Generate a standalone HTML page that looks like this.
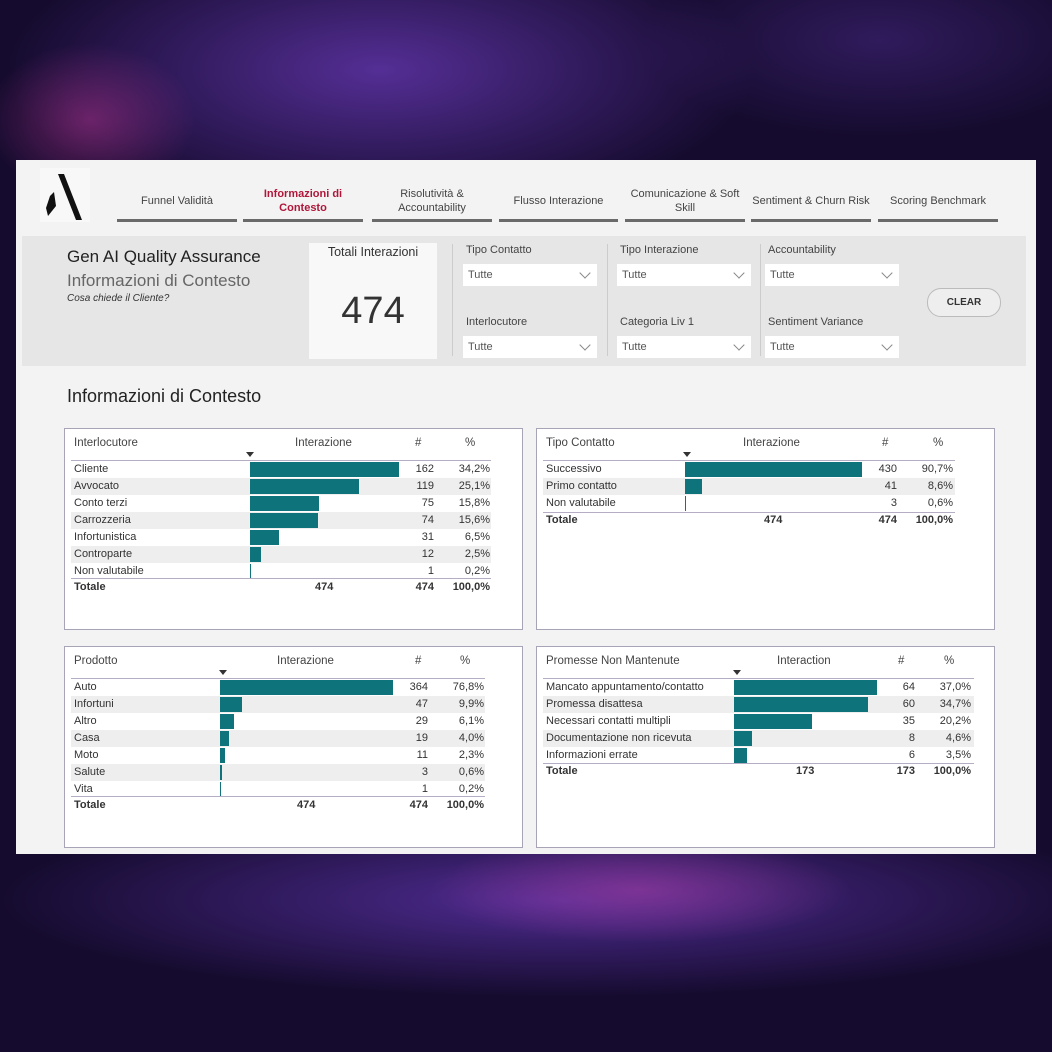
<!DOCTYPE html>
<html><head><meta charset="utf-8"><style>
*{margin:0;padding:0;box-sizing:border-box}
body{width:1052px;height:1052px;overflow:hidden;position:relative;font-family:"Liberation Sans",sans-serif;color:#333;
background:
radial-gradient(ellipse 150px 110px at 90px 120px,rgba(170,50,140,.55),transparent 70%),
radial-gradient(ellipse 480px 190px at 380px 70px,rgba(100,55,175,.8),transparent 78%),
radial-gradient(ellipse 320px 130px at 880px 40px,rgba(70,40,130,.55),transparent 75%),
radial-gradient(ellipse 280px 70px at 640px 890px,rgba(160,60,160,.6),transparent 75%),
radial-gradient(ellipse 750px 130px at 560px 900px,rgba(90,50,165,.85),transparent 75%),
#150b2e}
.a{position:absolute;white-space:nowrap}
.panel{position:absolute;left:16px;top:160px;width:1020px;height:694px;background:#f3f3f3}
.tab{position:absolute;top:186px;height:36px;border-bottom:3px solid #6a6a6a;font-size:11px;color:#444;text-align:center;display:flex;align-items:center;justify-content:center;line-height:14px;padding-bottom:4px}
.lbl{font-size:11px;color:#444}
.dd{position:absolute;width:134px;height:22px;background:#fff;font-size:11px;color:#555;padding:5px 0 0 5px}
.dd:after{content:"";position:absolute;right:8px;top:5px;width:7px;height:7px;border-right:1px solid #888;border-bottom:1px solid #888;transform:rotate(45deg)}
.sep{position:absolute;top:244px;width:1px;height:112px;background:#ccc}
.tbl{position:absolute;width:459px;height:202px;background:#fff;border:1px solid #a9a3b8;font-size:11px;color:#333}
.h{position:absolute;top:8px;font-size:11.5px;color:#444}
.hl{position:absolute;top:31px;height:1px;background:#b4adc4}
.r{position:absolute;height:17px;left:6px}
.r.g{background:#eeeeee}
.t{position:absolute;top:2px}
.b{position:absolute;top:1px;height:15px;background:#0e737a}
.n{position:absolute;top:2px;text-align:right}
.tot{font-weight:bold;font-size:11px}
.tri{position:absolute;top:23px;width:0;height:0;border-left:4px solid transparent;border-right:4px solid transparent;border-top:5px solid #333}
</style></head><body>
<div class="panel"></div>
<div class="a" style="left:40px;top:168px;width:50px;height:54px;background:#f8f8f8"></div>
<svg class="a" style="left:40px;top:168px" width="50" height="54"><polygon points="18,6 24,6 42,52 36,52" fill="#111"/><polygon points="10,28 14,24 16,38 8,48 6,40" fill="#111"/></svg>

<div class="tab" style="left:117px;width:120px">Funnel Validità</div>
<div class="tab" style="left:243px;width:120px;color:#b0163a;font-weight:bold">Informazioni di<br>Contesto</div>
<div class="tab" style="left:372px;width:120px">Risolutività &amp;<br>Accountability</div>
<div class="tab" style="left:499px;width:119px">Flusso Interazione</div>
<div class="tab" style="left:625px;width:120px">Comunicazione &amp; Soft<br>Skill</div>
<div class="tab" style="left:751px;width:120px">Sentiment &amp; Churn Risk</div>
<div class="tab" style="left:878px;width:120px">Scoring Benchmark</div>

<div class="a" style="left:22px;top:236px;width:1004px;height:130px;background:#e6e6e6"></div>
<div class="a" style="left:67px;top:247px;font-size:17px;color:#222">Gen AI Quality Assurance</div>
<div class="a" style="left:67px;top:271px;font-size:17px;color:#666">Informazioni di Contesto</div>
<div class="a" style="left:67px;top:293px;font-size:10px;font-style:italic;color:#333">Cosa chiede il Cliente?</div>
<div class="a" style="left:309px;top:243px;width:128px;height:116px;background:#f8f8f8"></div>
<div class="a" style="left:309px;top:245px;width:128px;text-align:center;font-size:12.5px;color:#333">Totali Interazioni</div>
<div class="a" style="left:309px;top:290px;width:128px;text-align:center;font-size:38px;color:#333">474</div>
<div class="sep" style="left:452px"></div><div class="sep" style="left:607px"></div><div class="sep" style="left:760px"></div>
<div class="a lbl" style="left:466px;top:244px">Tipo Contatto</div>
<div class="a lbl" style="left:466px;top:316px">Interlocutore</div>
<div class="a lbl" style="left:620px;top:244px">Tipo Interazione</div>
<div class="a lbl" style="left:620px;top:316px">Categoria Liv 1</div>
<div class="a lbl" style="left:768px;top:244px">Accountability</div>
<div class="a lbl" style="left:768px;top:316px">Sentiment Variance</div>
<div class="dd" style="left:463px;top:264px">Tutte</div><div class="dd" style="left:463px;top:336px">Tutte</div>
<div class="dd" style="left:617px;top:264px">Tutte</div><div class="dd" style="left:617px;top:336px">Tutte</div>
<div class="dd" style="left:765px;top:264px">Tutte</div><div class="dd" style="left:765px;top:336px">Tutte</div>
<div class="a" style="left:927px;top:288px;width:74px;height:29px;border:1px solid #bbb;border-radius:14px;background:#eee;font-size:10px;font-weight:bold;text-align:center;padding-top:8px;color:#333">CLEAR</div>

<div class="a" style="left:67px;top:386px;font-size:18px;color:#222">Informazioni di Contesto</div>

<!-- Table 1 -->
<div class="tbl" style="left:64px;top:428px">
<div class="h" style="left:9px">Interlocutore</div><div class="h" style="left:230px">Interazione</div><div class="h" style="left:350px">#</div><div class="h" style="left:400px">%</div>
<div class="tri" style="left:181px"></div>
<div class="hl" style="left:6px;width:420px"></div>
<div class="r" style="top:32px;width:420px"><span class="t" style="left:3px">Cliente</span><div class="b" style="left:179px;width:149px"></div><span class="n" style="right:57px">162</span><span class="n" style="right:1px">34,2%</span></div>
<div class="r g" style="top:49px;width:420px"><span class="t" style="left:3px">Avvocato</span><div class="b" style="left:179px;width:109px"></div><span class="n" style="right:57px">119</span><span class="n" style="right:1px">25,1%</span></div>
<div class="r" style="top:66px;width:420px"><span class="t" style="left:3px">Conto terzi</span><div class="b" style="left:179px;width:69px"></div><span class="n" style="right:57px">75</span><span class="n" style="right:1px">15,8%</span></div>
<div class="r g" style="top:83px;width:420px"><span class="t" style="left:3px">Carrozzeria</span><div class="b" style="left:179px;width:68px"></div><span class="n" style="right:57px">74</span><span class="n" style="right:1px">15,6%</span></div>
<div class="r" style="top:100px;width:420px"><span class="t" style="left:3px">Infortunistica</span><div class="b" style="left:179px;width:29px"></div><span class="n" style="right:57px">31</span><span class="n" style="right:1px">6,5%</span></div>
<div class="r g" style="top:117px;width:420px"><span class="t" style="left:3px">Controparte</span><div class="b" style="left:179px;width:11px"></div><span class="n" style="right:57px">12</span><span class="n" style="right:1px">2,5%</span></div>
<div class="r" style="top:134px;width:420px"><span class="t" style="left:3px">Non valutabile</span><div class="b" style="left:179px;width:1px"></div><span class="n" style="right:57px">1</span><span class="n" style="right:1px">0,2%</span></div>
<div class="hl" style="left:6px;width:420px;top:149px"></div>
<div class="r tot" style="top:150px;width:420px"><span class="t" style="left:3px">Totale</span><span class="t" style="left:244px">474</span><span class="n" style="right:57px">474</span><span class="n" style="right:1px">100,0%</span></div>
</div>

<!-- Table 2 -->
<div class="tbl" style="left:536px;top:428px">
<div class="h" style="left:9px">Tipo Contatto</div><div class="h" style="left:206px">Interazione</div><div class="h" style="left:345px">#</div><div class="h" style="left:396px">%</div>
<div class="tri" style="left:146px"></div>
<div class="hl" style="left:6px;width:412px"></div>
<div class="r" style="top:32px;width:412px"><span class="t" style="left:3px">Successivo</span><div class="b" style="left:142px;width:177px"></div><span class="n" style="right:58px">430</span><span class="n" style="right:2px">90,7%</span></div>
<div class="r g" style="top:49px;width:412px"><span class="t" style="left:3px">Primo contatto</span><div class="b" style="left:142px;width:17px"></div><span class="n" style="right:58px">41</span><span class="n" style="right:2px">8,6%</span></div>
<div class="r" style="top:66px;width:412px"><span class="t" style="left:3px">Non valutabile</span><div class="b" style="left:142px;width:1px"></div><span class="n" style="right:58px">3</span><span class="n" style="right:2px">0,6%</span></div>
<div class="hl" style="left:6px;width:412px;top:83px"></div>
<div class="r tot" style="top:83px;width:412px"><span class="t" style="left:3px">Totale</span><span class="t" style="left:221px">474</span><span class="n" style="right:58px">474</span><span class="n" style="right:2px">100,0%</span></div>
</div>

<!-- Table 3 -->
<div class="tbl" style="left:64px;top:646px">
<div class="h" style="left:9px">Prodotto</div><div class="h" style="left:212px">Interazione</div><div class="h" style="left:350px">#</div><div class="h" style="left:395px">%</div>
<div class="tri" style="left:154px"></div>
<div class="hl" style="left:6px;width:414px"></div>
<div class="r" style="top:32px;width:414px"><span class="t" style="left:3px">Auto</span><div class="b" style="left:149px;width:173px"></div><span class="n" style="right:57px">364</span><span class="n" style="right:1px">76,8%</span></div>
<div class="r g" style="top:49px;width:414px"><span class="t" style="left:3px">Infortuni</span><div class="b" style="left:149px;width:22px"></div><span class="n" style="right:57px">47</span><span class="n" style="right:1px">9,9%</span></div>
<div class="r" style="top:66px;width:414px"><span class="t" style="left:3px">Altro</span><div class="b" style="left:149px;width:14px"></div><span class="n" style="right:57px">29</span><span class="n" style="right:1px">6,1%</span></div>
<div class="r g" style="top:83px;width:414px"><span class="t" style="left:3px">Casa</span><div class="b" style="left:149px;width:9px"></div><span class="n" style="right:57px">19</span><span class="n" style="right:1px">4,0%</span></div>
<div class="r" style="top:100px;width:414px"><span class="t" style="left:3px">Moto</span><div class="b" style="left:149px;width:5px"></div><span class="n" style="right:57px">11</span><span class="n" style="right:1px">2,3%</span></div>
<div class="r g" style="top:117px;width:414px"><span class="t" style="left:3px">Salute</span><div class="b" style="left:149px;width:2px"></div><span class="n" style="right:57px">3</span><span class="n" style="right:1px">0,6%</span></div>
<div class="r" style="top:134px;width:414px"><span class="t" style="left:3px">Vita</span><div class="b" style="left:149px;width:1px"></div><span class="n" style="right:57px">1</span><span class="n" style="right:1px">0,2%</span></div>
<div class="hl" style="left:6px;width:414px;top:149px"></div>
<div class="r tot" style="top:150px;width:414px"><span class="t" style="left:3px">Totale</span><span class="t" style="left:226px">474</span><span class="n" style="right:57px">474</span><span class="n" style="right:1px">100,0%</span></div>
</div>

<!-- Table 4 -->
<div class="tbl" style="left:536px;top:646px">
<div class="h" style="left:9px">Promesse Non Mantenute</div><div class="h" style="left:240px">Interaction</div><div class="h" style="left:361px">#</div><div class="h" style="left:407px">%</div>
<div class="tri" style="left:196px"></div>
<div class="hl" style="left:6px;width:431px"></div>
<div class="r" style="top:32px;width:431px"><span class="t" style="left:3px">Mancato appuntamento/contatto</span><div class="b" style="left:191px;width:143px"></div><span class="n" style="right:59px">64</span><span class="n" style="right:3px">37,0%</span></div>
<div class="r g" style="top:49px;width:431px"><span class="t" style="left:3px">Promessa disattesa</span><div class="b" style="left:191px;width:134px"></div><span class="n" style="right:59px">60</span><span class="n" style="right:3px">34,7%</span></div>
<div class="r" style="top:66px;width:431px"><span class="t" style="left:3px">Necessari contatti multipli</span><div class="b" style="left:191px;width:78px"></div><span class="n" style="right:59px">35</span><span class="n" style="right:3px">20,2%</span></div>
<div class="r g" style="top:83px;width:431px"><span class="t" style="left:3px">Documentazione non ricevuta</span><div class="b" style="left:191px;width:18px"></div><span class="n" style="right:59px">8</span><span class="n" style="right:3px">4,6%</span></div>
<div class="r" style="top:100px;width:431px"><span class="t" style="left:3px">Informazioni errate</span><div class="b" style="left:191px;width:13px"></div><span class="n" style="right:59px">6</span><span class="n" style="right:3px">3,5%</span></div>
<div class="hl" style="left:6px;width:431px;top:116px"></div>
<div class="r tot" style="top:116px;width:431px"><span class="t" style="left:3px">Totale</span><span class="t" style="left:253px">173</span><span class="n" style="right:59px">173</span><span class="n" style="right:3px">100,0%</span></div>
</div>
</body></html>
